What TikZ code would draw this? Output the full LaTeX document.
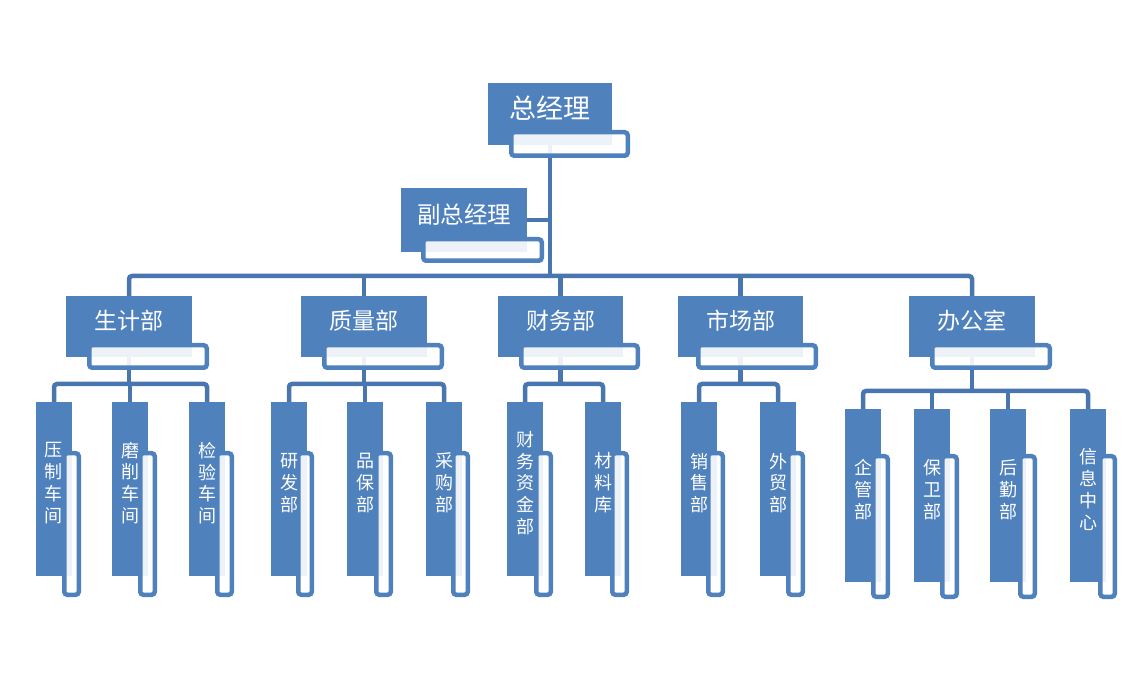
\documentclass[tikz,border=0pt]{standalone}
\usepackage{fontspec}
\setmainfont{Noto Sans CJK SC}
\usetikzlibrary{backgrounds}
\definecolor{boxblue}{HTML}{4F81BD}
\definecolor{lineblue}{HTML}{4A76B0}
\tikzset{
  bluebox/.style={fill=boxblue, draw=none, inner sep=0pt, outer sep=0pt},
  whitebox/.style={draw=boxblue, line width=4.5pt, fill=white, fill opacity=0.9, rounded corners=3pt, inner sep=0pt, outer sep=0pt},
  conn/.style={draw=lineblue, line width=4.5pt, rounded corners=3pt},
  tbig/.style={text=white, inner sep=0pt, font=\fontsize{27}{30}\selectfont},
  tvp/.style={text=white, inner sep=0pt, font=\fontsize{23.5}{28}\selectfont},
  tone/.style={text=white, inner sep=0pt, font=\fontsize{23}{28}\selectfont},
  ttwo/.style={text=white, inner sep=0pt, align=center, font=\fontsize{18}{21.8}\selectfont},
}
\newcommand\mkblue[5]{%
  \node[bluebox, minimum width={(#4-#2)*1pt}, minimum height={(#5-#3)*1pt}] (#1) at ({(#2+#4)/2},{(#3+#5)/2}) {};}
\newcommand\mkwhite[5]{%
  \node[whitebox, minimum width={(#4-#2-4.5)*1pt}, minimum height={(#5-#3-4.5)*1pt}] (#1) at ({(#2+#4)/2},{(#3+#5)/2}) {};}
\begin{document}
\begin{tikzpicture}[x=1pt,y=-1pt]
\useasboundingbox (0,0) rectangle (1144,692);
% level 0
\mkblue{ceo}{488}{83}{612}{145}
\mkwhite{ceow}{509}{130}{630}{158}
\node[tbig] (ceot) at ([yshift=6pt]ceo.center) {总经理};
\mkblue{vp}{401}{188}{527}{252}
\mkwhite{vpw}{421}{237}{544}{263}
\node[tvp] (vpt) at ([yshift=5pt]vp.center) {副总经理};
% level 1
\mkblue{sj}{66}{296}{192}{357}
\mkwhite{sjw}{87}{343}{209}{370}
\node[tone] (sjt) at ([yshift=5.5pt]sj.center) {生计部};
\mkblue{zl}{301}{296}{427}{357}
\mkwhite{zlw}{322}{343}{444}{370}
\node[tone] (zlt) at ([yshift=5.5pt]zl.center) {质量部};
\mkblue{cw}{498}{296}{623}{357}
\mkwhite{cww}{519}{343}{640}{370}
\node[tone] (cwt) at ([yshift=5.5pt]cw.center) {财务部};
\mkblue{sc}{678}{296}{803}{357}
\mkwhite{scw}{696}{343}{818}{370}
\node[tone] (sct) at ([yshift=5.5pt]sc.center) {市场部};
\mkblue{bg}{909}{296}{1035}{357}
\mkwhite{bgw}{930}{343}{1052}{370}
\node[tone] (bgt) at ([yshift=5.5pt]bg.center) {办公室};
% level 2, group 1
\mkblue{yz}{36}{402}{72}{576}
\mkwhite{yzw}{62}{451}{81}{597}
\node[ttwo] (yzt) at ([yshift=6pt]yz.center) {压\\制\\车\\间};
\mkblue{mx}{112}{402}{148}{576}
\mkwhite{mxw}{138}{451}{157}{597}
\node[ttwo] (mxt) at ([yshift=6pt]mx.center) {磨\\削\\车\\间};
\mkblue{jy}{189}{402}{225}{576}
\mkwhite{jyw}{215}{451}{234}{597}
\node[ttwo] (jyt) at ([yshift=6pt]jy.center) {检\\验\\车\\间};
% group 2
\mkblue{yf}{271}{402}{307}{576}
\mkwhite{yfw}{296}{451}{314}{597}
\node[ttwo] (yft) at ([yshift=6pt]yf.center) {研\\发\\部};
\mkblue{pb}{347}{402}{383}{576}
\mkwhite{pbw}{374}{451}{393}{597}
\node[ttwo] (pbt) at ([yshift=6pt]pb.center) {品\\保\\部};
\mkblue{cg}{426}{402}{462}{576}
\mkwhite{cgw}{451}{451}{470}{597}
\node[ttwo] (cgt) at ([yshift=6pt]cg.center) {采\\购\\部};
% group 3
\mkblue{zj}{507}{402}{543}{576}
\mkwhite{zjw}{534}{451}{553}{597}
\node[ttwo] (zjt) at ([yshift=6pt]zj.center) {财\\务\\资\\金\\部};
\mkblue{cl}{585}{402}{621}{576}
\mkwhite{clw}{610}{451}{629}{597}
\node[ttwo] (clt) at ([yshift=6pt]cl.center) {材\\料\\库};
% group 4
\mkblue{xs}{681}{402}{717}{576}
\mkwhite{xsw}{706}{451}{725}{597}
\node[ttwo] (xst) at ([yshift=6pt]xs.center) {销\\售\\部};
\mkblue{wm}{760}{402}{796}{576}
\mkwhite{wmw}{786}{451}{805}{597}
\node[ttwo] (wmt) at ([yshift=6pt]wm.center) {外\\贸\\部};
% group 5
\mkblue{qg}{845}{409}{881}{582}
\mkwhite{qgw}{871}{454}{890}{599}
\node[ttwo] (qgt) at ([yshift=6pt]qg.center) {企\\管\\部};
\mkblue{bw}{914}{409}{950}{582}
\mkwhite{bww}{940}{454}{959}{599}
\node[ttwo] (bwt) at ([yshift=6pt]bw.center) {保\\卫\\部};
\mkblue{hq}{990}{409}{1026}{582}
\mkwhite{hqw}{1018}{454}{1037}{599}
\node[ttwo] (hqt) at ([yshift=6pt]hq.center) {后\\勤\\部};
\mkblue{xx}{1070}{409}{1106}{582}
\mkwhite{xxw}{1098}{454}{1117}{599}
\node[ttwo] (xxt) at ([yshift=6pt]xx.center) {信\\息\\中\\心};
% connectors
\begin{pgfonlayer}{background}
\fill[white] (0,0) rectangle (1144,692);
\coordinate (bus) at (550,276);
\coordinate (g1) at (129,384);
\coordinate (g2) at (364,384);
\coordinate (g3) at (560.5,384);
\coordinate (g4) at (740.5,384);
\coordinate (g5) at (972,391);
\draw[conn] (ceo) -- (bus);
\draw[conn] (vp) -- (vp -| bus);
\draw[conn] (sj) |- (bus) -| (bg);
\draw[conn] (bus -| zl) -- (zl);
\draw[conn] (bus -| cw) -- (cw);
\draw[conn] (bus -| sc) -- (sc);
\draw[conn] (sj) -- (g1);
\draw[conn] (yz) |- (g1) -| (jy);
\draw[conn] (g1 -| mx) -- (mx);
\draw[conn] (zl) -- (g2);
\draw[conn] (yf) |- (g2) -| (cg);
\draw[conn] (g2 -| pb) -- (pb);
\draw[conn] (cw) -- (g3);
\draw[conn] (zj) |- (g3) -| (cl);
\draw[conn] (sc) -- (g4);
\draw[conn] (xs) |- (g4) -| (wm);
\draw[conn] (bg) -- (g5);
\draw[conn] (qg) |- (g5) -| (xx);
\draw[conn] (g5 -| bw) -- (bw);
\draw[conn] (g5 -| hq) -- (hq);
\end{pgfonlayer}
\end{tikzpicture}
\end{document}
